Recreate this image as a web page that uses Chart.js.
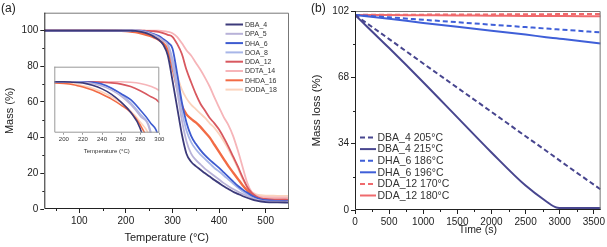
<!DOCTYPE html>
<html><head><meta charset="utf-8">
<script src="https://cdn.jsdelivr.net/npm/chart.js@4/dist/chart.umd.min.js"></script>
<style>
html,body{margin:0;padding:0;background:#fff;}
body{width:607px;height:247px;position:relative;overflow:hidden;font-family:"Liberation Sans",Arial,sans-serif;}
canvas{position:absolute;display:block;}
#ca{left:0;top:0;}
#ci{left:40px;top:60px;}
#cb{left:300px;top:0;}
.pl{position:absolute;font-size:12px;color:#222;line-height:1;}
</style></head><body>
<canvas id="ca" width="300" height="247"></canvas>
<canvas id="ci" width="130" height="95"></canvas>
<canvas id="cb" width="307" height="247"></canvas>
<div class="pl" style="left:1px;top:2px;">(a)</div>
<div class="pl" style="left:311px;top:2px;">(b)</div>
<script>
// ---------- Panel (a): TGA curves ----------
const temps = [25,150,190,200,210,220,230,240,250,260,270,280,290,300,310,320,330,340,350,360,370,380,390,400,410,420,430,440,450,460,470,480,490,500,525,550];
const DBA_4  = [100,100,100,100,99.9,99.8,99.4,98.8,97.9,96.6,94.9,92.2,86,72,57,42,31,26.5,24,22,20,18.2,16.2,14.5,12.8,11.2,9.7,8.5,7.3,6.3,5.4,4.7,4.2,3.9,3.7,3.6];
const DPA_5  = [100,100,100,100,100,99.9,99.7,99.3,98.6,97.6,96.2,94.3,91.9,81,66,50,38,31,27.5,25,22.5,20.5,18.5,16.5,14.5,12.8,11.2,9.8,8.5,7.3,6.2,5.3,4.7,4.3,4.1,4.0];
const DHA_6  = [100,100,100,100,100,100,99.9,99.6,98.9,98.0,97.0,95.3,93.3,90,76,60,48.5,41,36.5,33,30,27.5,25.3,23,20.5,18,15.5,13,11,9.2,7.6,6.3,5.4,4.9,4.5,4.4];
const DOA_8  = [100,100,100,100,100,99.9,99.8,99.5,98.9,97.9,96.5,94.6,92.3,84,70,55,44,37.5,33.5,30.5,28,25.5,23,21,18.8,16.5,14.2,12,10,8.3,6.9,5.8,5.1,4.7,4.4,4.3];
const DDA_12 = [100,100,100,100,100,100,100,99.9,99.8,99.6,99.2,98.5,97.6,96.5,92.5,87,78,71,64.5,59,55,51,48,44.5,40,35,29.5,24,18,12.5,9,7,6,5.6,5.4,5.3];
const DDTA_14= [100,100,100,100,100,100,100,100,100,100,99.9,99.7,99.3,98.5,96.5,93,89,86,82,78,73.5,68.5,62.5,57,51.5,47,41,33,24,15,9.5,7.5,6.8,6.6,6.5,6.4];
const DHDA_16= [100,100,99.8,99.7,99.5,99.1,98.6,97.9,97.1,96.1,94.9,92.8,89,79,68,58,53,50.5,48.5,46,43,40,36,32,28,24,20.5,17,13.5,10.5,8,6.3,5.4,5.0,4.9,4.8];
const DODA_18= [100,100,99.9,99.8,99.6,99.3,98.9,98.3,97.5,96.5,95.1,93.3,90.8,84,75,67,62,58.5,56,53.5,51,48,45.5,42,38,33.5,28.5,23,17,12.5,9.5,8.2,7.7,7.5,7.4,7.3];
const namesA = ['DBA_4','DPA_5','DHA_6','DOA_8','DDA_12','DDTA_14','DHDA_16','DODA_18'];
const valuesA = [DBA_4,DPA_5,DHA_6,DOA_8,DDA_12,DDTA_14,DHDA_16,DODA_18];
const ticksAx = [100,200,300,400,500];
const ticksAy = [0,20,40,60,80,100];
const ticksInsetX = [200,220,240,260,280,300];

// ---------- Panel (b): isothermal mass loss ----------
const times = [0,500,1000,1500,2000,2500,2800,2950,3050,3600];
const DBA4_205  = [100,87.6,75.1,62.7,50.3,37.8,30.4,26.6,24.1,10.5];
const DBA4_215  = [100,83,65.5,47.5,29.5,12.5,4.5,1.3,1.0,1.0];
const DHA6_186  = [100,98.75,97.5,96.25,95,93.75,93,92.6,92.4,91];
const DHA6_196  = [100,98,95.9,93.9,91.9,89.9,88.6,88,87.6,85.4];
const DDA12_170 = [100,100.07,100.14,100.2,100.27,100.34,100.38,100.4,100.42,100.5];
const DDA12_180 = [100,99.9,99.8,99.7,99.6,99.5,99.45,99.42,99.4,99.3];
const namesB = ['DBA_4 205°C','DBA_4 215°C','DHA_6 186°C','DHA_6 196°C','DDA_12 170°C','DDA_12 180°C'];
const valuesB = [DBA4_205,DBA4_215,DHA6_186,DHA6_196,DDA12_170,DDA12_180];
const ticksBx = [0,500,1000,1500,2000,2500,3000,3500];
const ticksBy = [0,34,68,102];

// ---------- styles ----------
const FONT = '"Liberation Sans", Arial, sans-serif';
Chart.defaults.font.family = FONT;
Chart.defaults.color = '#222';
const colorsA = ['#3c3a7a','#b8b2d8','#3d5bd0','#a8b6e8','#d8585f','#f6b5b9','#f26b45','#fbd3bd'];
const widthsA = [1.8,1.8,1.8,1.8,1.8,1.8,2.4,1.8];
const colorsB = ['#48468f','#48468f','#3f5fd8','#3f5fd8','#ef6a6d','#ef6a6d'];
const dashB = [[5,3],[],[5,3],[],[5,3],[]];

const xy = (xs, ys) => xs.map((x,i)=>({x:x, y:ys[i]}));
const setTicks = arr => (s => { s.ticks = arr.map(v=>({value:v})); });
const plain = v => String(v);

const framePlugin = {
  id:'frame',
  beforeDatasetsDraw(chart, args, o){
    if(o.fill){ const a=chart.chartArea; chart.ctx.save(); chart.ctx.fillStyle='#fff'; chart.ctx.fillRect(a.left,a.top,a.right-a.left,a.bottom-a.top); chart.ctx.restore(); }
  },
  afterDraw(chart, args, o){
    const ctx = chart.ctx, a = chart.chartArea, sx = chart.scales.x, sy = chart.scales.y;
    ctx.save();
    ctx.lineWidth = 1;
    ctx.strokeStyle = o.boxColor;
    ctx.beginPath();
    ctx.moveTo(a.left, a.top+0.5); ctx.lineTo(a.right-0.5, a.top+0.5); ctx.lineTo(a.right-0.5, a.bottom);
    ctx.stroke();
    ctx.strokeStyle = o.axisColor;
    ctx.beginPath();
    ctx.moveTo(a.left+0.5, a.top); ctx.lineTo(a.left+0.5, a.bottom-0.5); ctx.lineTo(a.right, a.bottom-0.5);
    ctx.stroke();
    ctx.beginPath();
    (o.xMinor||[]).forEach(v=>{ const p=Math.round(sx.getPixelForValue(v))+0.5; ctx.moveTo(p,a.bottom); ctx.lineTo(p,a.bottom+2); });
    (o.yMinor||[]).forEach(v=>{ const p=Math.round(sy.getPixelForValue(v))+0.5; ctx.moveTo(a.left,p); ctx.lineTo(a.left-2,p); });
    ctx.stroke();
    ctx.restore();
  }
};

const legendPlugin = {
  id:'lgd',
  afterDraw(chart, args, o){
    if(!o.show) return;
    const ctx = chart.ctx;
    ctx.save();
    chart.data.datasets.forEach((ds,i)=>{
      const y = o.y0 + i*o.dy;
      ctx.strokeStyle = ds.borderColor; ctx.lineWidth = o.lw;
      ctx.setLineDash(ds.borderDash||[]);
      ctx.beginPath(); ctx.moveTo(o.x0,y); ctx.lineTo(o.x1,y); ctx.stroke();
      ctx.setLineDash([]);
      ctx.fillStyle = '#333'; ctx.font = o.size+'px '+FONT; ctx.textBaseline='middle'; ctx.textAlign='left';
      ctx.fillText(ds.label, o.tx, y+0.5);
    });
    ctx.restore();
  }
};

function dsA(){
  return namesA.map((n,i)=>({label:n, data:xy(temps, valuesA[i]), borderColor:colorsA[i], backgroundColor:colorsA[i],
    borderWidth:widthsA[i], pointRadius:0, cubicInterpolationMode:'monotone', fill:false}));
}

// Main panel (a)
new Chart(document.getElementById('ca'), {
  type:'line',
  data:{datasets:dsA()},
  options:{
    responsive:false, animation:false, events:[],
    layout:{padding:{left:0,top:12.7,right:11,bottom:0}},
    plugins:{legend:{display:false}, tooltip:{enabled:false},
      frame:{boxColor:'#777', axisColor:'#222', xMinor:[50,150,250,350,450], yMinor:[10,30,50,70,90]},
      lgd:{show:true, x0:225.5, x1:243, tx:245, y0:24.5, dy:9.3, size:7, lw:2}},
    scales:{
      x:{type:'linear', min:25, max:550, afterBuildTicks:setTicks(ticksAx),
        ticks:{callback:plain, autoSkip:false, font:{size:10}, color:'#222', padding:2, maxRotation:0},
        grid:{display:true, drawOnChartArea:false, drawTicks:true, tickLength:4, color:'#222'},
        border:{display:false},
        title:{display:true, text:'Temperature (°C)', font:{size:11}, color:'#222', padding:{top:0,bottom:2.5}},
        afterFit:s=>{s.height=38;}},
      y:{type:'linear', min:0, max:110, afterBuildTicks:setTicks(ticksAy),
        ticks:{callback:plain, autoSkip:false, font:{size:10}, color:'#222', padding:2},
        grid:{display:true, drawOnChartArea:false, drawTicks:true, tickLength:4, color:'#222'},
        border:{display:false},
        title:{display:true, text:'Mass (%)', font:{size:11}, color:'#222', padding:{top:3.5,bottom:0}},
        afterFit:s=>{s.width=44.3;}}
    }
  },
  plugins:[framePlugin, legendPlugin]
});

// Inset of panel (a)
new Chart(document.getElementById('ci'), {
  type:'line',
  data:{datasets:dsA().map(d=>Object.assign(d,{borderWidth:1.6}))},
  options:{
    responsive:false, animation:false, events:[],
    layout:{padding:{left:14.3,top:6.7,right:10.7,bottom:0}},
    plugins:{legend:{display:false}, tooltip:{enabled:false},
      frame:{fill:true, boxColor:'#999', axisColor:'#999', xMinor:[], yMinor:[]},
      lgd:{show:false}},
    scales:{
      x:{type:'linear', min:190, max:300, afterBuildTicks:setTicks(ticksInsetX),
        ticks:{callback:plain, autoSkip:false, font:{size:6}, color:'#333', padding:1, maxRotation:0},
        grid:{display:true, drawOnChartArea:false, drawTicks:true, tickLength:2, color:'#999'},
        border:{display:false},
        title:{display:true, text:'Temperature (°C)', font:{size:6}, color:'#333', padding:{top:1,bottom:0}},
        afterFit:s=>{s.height=22.3;}},
      y:{type:'linear', min:91.5, max:102.5, display:false}
    }
  },
  plugins:[framePlugin]
});

// Panel (b)
new Chart(document.getElementById('cb'), {
  type:'line',
  data:{datasets:namesB.map((n,i)=>({label:n, data:xy(times, valuesB[i]), borderColor:colorsB[i], backgroundColor:colorsB[i],
    borderWidth:2, borderDash:dashB[i], pointRadius:0, cubicInterpolationMode:'monotone', fill:false}))},
  options:{
    responsive:false, animation:false, events:[],
    layout:{padding:{left:0,top:11,right:2,bottom:0}},
    plugins:{legend:{display:false}, tooltip:{enabled:false},
      frame:{boxColor:'#777', axisColor:'#222', xMinor:[250,750,1250,1750,2250,2750,3250], yMinor:[17,51,85]},
      lgd:{show:true, x0:60, x1:76, tx:77.5, y0:137.5, dy:11.6, size:10.5, lw:2}},
    scales:{
      x:{type:'linear', min:0, max:3600, afterBuildTicks:setTicks(ticksBx),
        ticks:{callback:plain, autoSkip:false, font:{size:10}, color:'#222', padding:2, maxRotation:0},
        grid:{display:true, drawOnChartArea:false, drawTicks:true, tickLength:4, color:'#222'},
        border:{display:false},
        title:{display:true, text:'Time (s)', font:{size:10.5}, color:'#222', padding:{top:0,bottom:11}},
        afterFit:s=>{s.height=37;}},
      y:{type:'linear', min:0, max:102, afterBuildTicks:setTicks(ticksBy),
        ticks:{callback:plain, autoSkip:false, font:{size:10}, color:'#222', padding:2},
        grid:{display:true, drawOnChartArea:false, drawTicks:true, tickLength:4, color:'#222'},
        border:{display:false},
        title:{display:true, text:'Mass loss (%)', font:{size:11.5}, color:'#222', padding:{top:10,bottom:0}},
        afterFit:s=>{s.width=55;}}
    }
  },
  plugins:[framePlugin, legendPlugin]
});
</script>
</body></html>
